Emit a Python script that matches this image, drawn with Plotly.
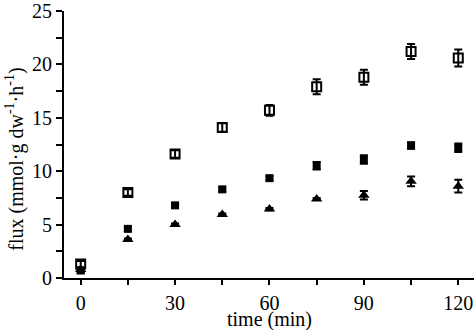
import plotly.graph_objects as go

# Sampling times (min)
time_min = [0, 15, 30, 45, 60, 75, 90, 105, 120]

# Flux values (mmol·g dw^-1·h^-1) and standard errors for the three series
open_sq = [1.3, 8.0, 11.6, 14.1, 15.7, 17.9, 18.8, 21.2, 20.6]
open_sq_err = [0.3, 0.3, 0.35, 0.4, 0.5, 0.7, 0.7, 0.7, 0.8]

filled_sq = [0.7, 4.6, 6.8, 8.3, 9.35, 10.5, 11.1, 12.4, 12.2]
filled_sq_err = [0.2, 0.2, 0.2, 0.2, 0.2, 0.35, 0.4, 0.3, 0.4]

triangle = [0.8, 3.6, 5.0, 5.95, 6.45, 7.4, 7.75, 9.05, 8.6]
triangle_err = [0.1, 0.1, 0.1, 0.1, 0.1, 0.1, 0.4, 0.45, 0.6]

x_ticks = [0, 15, 30, 45, 60, 75, 90, 105, 120]
x_tick_labels = ["0", "", "30", "", "60", "", "90", "", "120"]
y_ticks = [0, 2.5, 5, 7.5, 10, 12.5, 15, 17.5, 20, 22.5, 25]
y_tick_labels = ["0", "", "5", "", "10", "", "15", "", "20", "", "25"]

FONT = "Liberation Serif"


def err(values):
    return dict(type="data", array=values, visible=True,
                color="black", thickness=2, width=4)


fig = go.Figure()
fig.add_trace(go.Scatter(
    x=time_min, y=triangle, mode="markers", error_y=err(triangle_err),
    marker=dict(symbol="triangle-up", size=10, color="black",
                line=dict(width=0))))
fig.add_trace(go.Scatter(
    x=time_min, y=filled_sq, mode="markers", error_y=err(filled_sq_err),
    marker=dict(symbol="square", size=8, color="black",
                line=dict(width=0))))
fig.add_trace(go.Scatter(
    x=time_min, y=open_sq, mode="markers", error_y=err(open_sq_err),
    marker=dict(symbol="square-open", size=9, color="black",
                line=dict(width=2, color="black"))))

fig.update_layout(
    width=474, height=330,
    margin=dict(l=64, r=0, t=7, b=52),
    paper_bgcolor="white", plot_bgcolor="white",
    showlegend=False,
    font=dict(family=FONT, size=20, color="black"),
    xaxis=dict(
        range=[-5.3, 125], tickmode="array", tickvals=x_ticks,
        ticktext=x_tick_labels, ticks="outside", ticklen=5, tickwidth=2,
        tickcolor="black", showline=True, linewidth=2, linecolor="black",
        showgrid=False, zeroline=False, ticklabelstandoff=1,
        ticklabeloverflow="allow",
        tickfont=dict(family=FONT, size=20),
    ),
    yaxis=dict(
        range=[0, 25], tickmode="array", tickvals=y_ticks,
        ticktext=y_tick_labels, ticks="outside", ticklen=6, tickwidth=2,
        tickcolor="black", showline=True, linewidth=2, linecolor="black",
        showgrid=False, zeroline=False, ticklabeloverflow="allow",
        tickfont=dict(family=FONT, size=20),
    ),
    annotations=[
        dict(
            text="flux (mmol·g dw<sup>-1</sup>·h<sup>-1</sup>)",
            x=0, y=0.443, xref="paper", yref="paper",
            xanchor="center", yanchor="middle", xshift=-49,
            textangle=-90, showarrow=False,
            font=dict(family=FONT, size=20, color="black"),
        ),
        dict(
            text="time (min)",
            x=0.5, y=0, xref="paper", yref="paper",
            xanchor="center", yanchor="middle", yshift=-41, borderpad=0,
            showarrow=False,
            font=dict(family=FONT, size=20, color="black"),
        ),
    ],
)

fig.write_html("out.html")
